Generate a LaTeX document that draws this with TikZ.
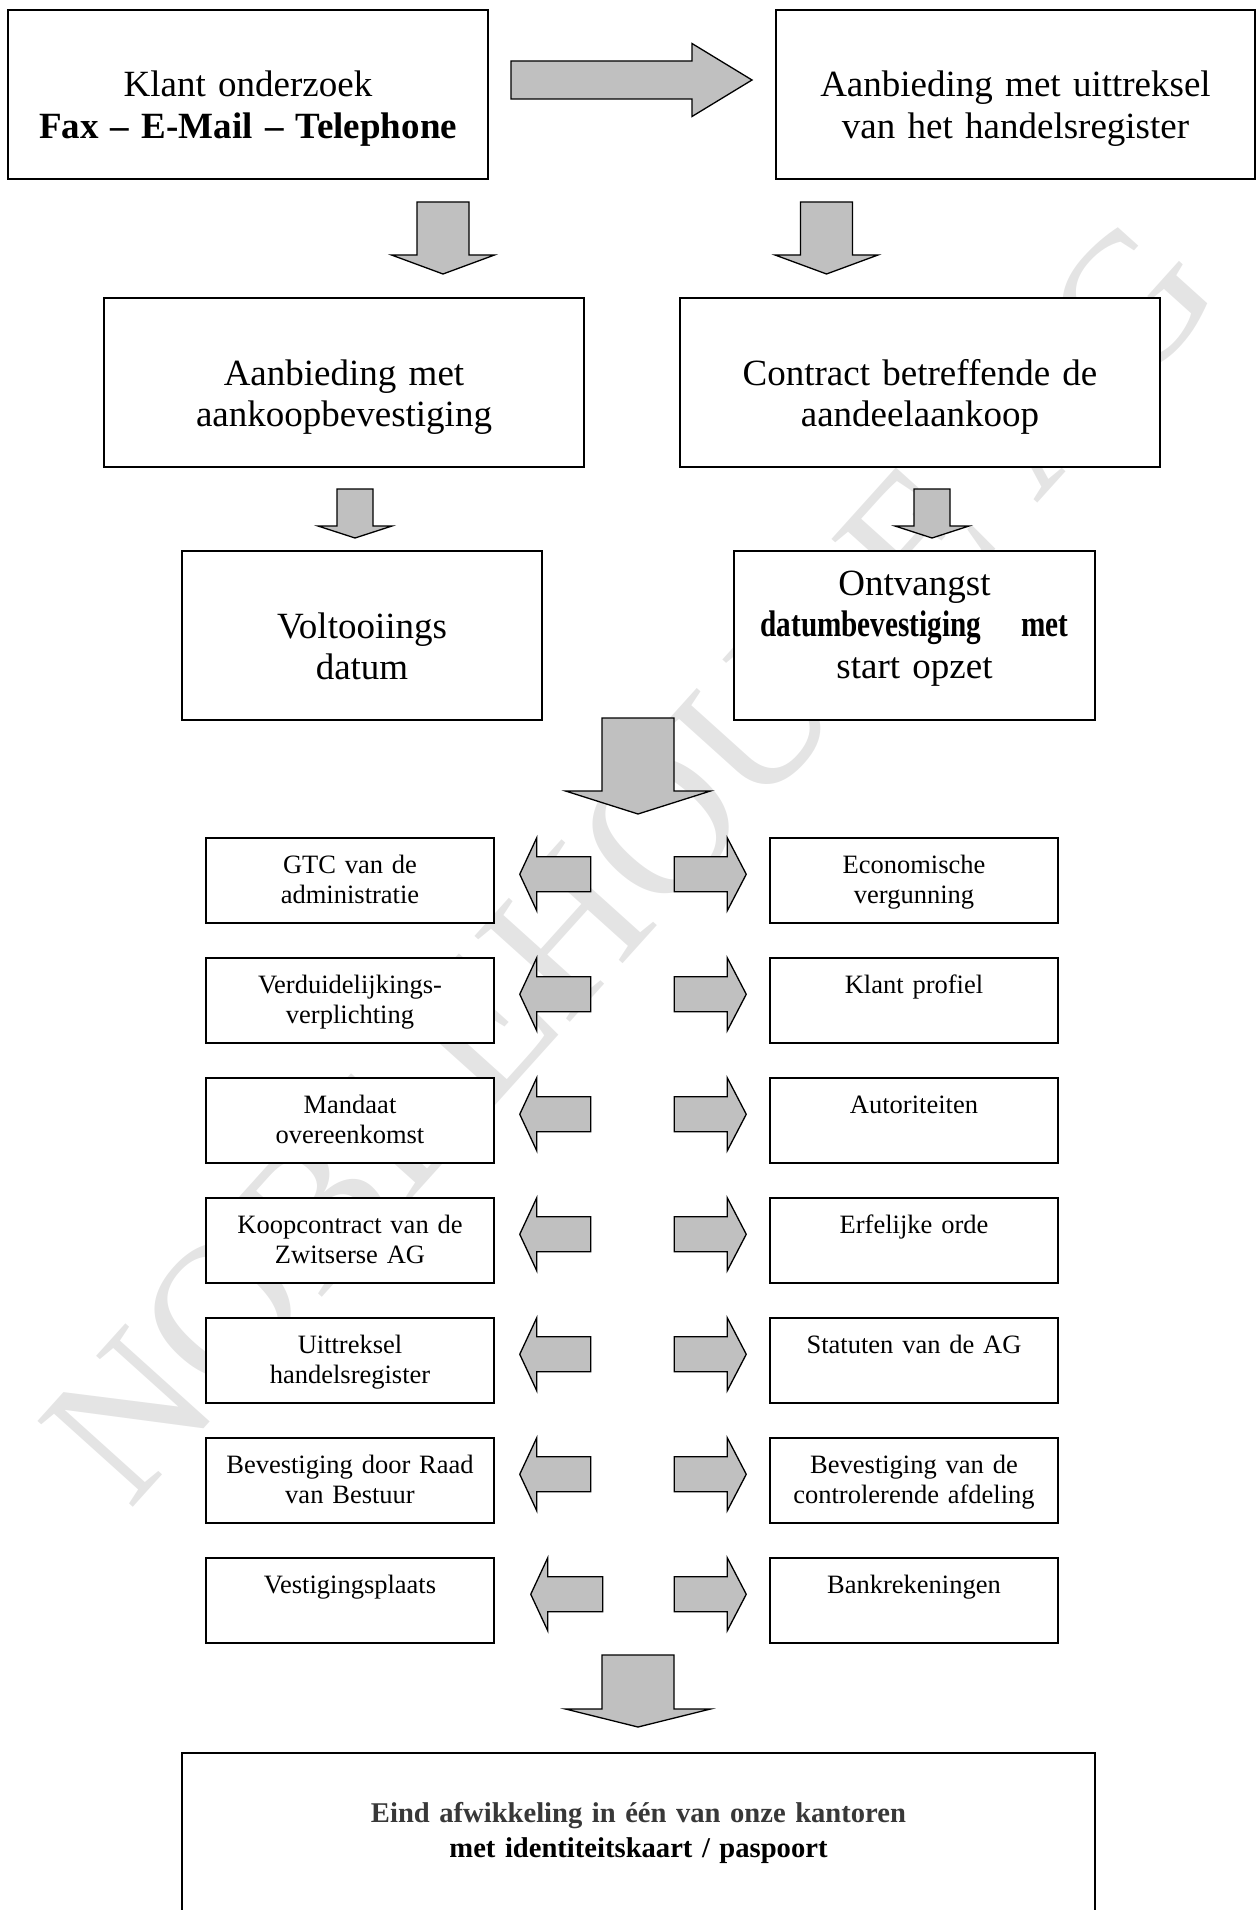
\documentclass[tikz,border=0pt]{standalone}
\usepackage{fontspec}
\setmainfont{Liberation Serif}
\usepackage{graphicx}
\usetikzlibrary{positioning,calc}

\definecolor{arrowgrey}{RGB}{192,192,192}
\definecolor{markgrey}{RGB}{228,228,228}

% fat grey arrow: start, tip, half shaft, half head, head length
\newcommand{\blockarrow}[5]{%
  \coordinate (hb) at ($(#2)!#5!(#1)$);
  \draw[blockarr] ($(#1)!#3!90:(#2)$) -- ($(hb)!#3!90:(#2)$) -- ($(hb)!#4!90:(#2)$) -- (#2)
    -- ($(hb)!#4!-90:(#2)$) -- ($(hb)!#3!-90:(#2)$) -- ($(#1)!#3!-90:(#2)$) -- cycle;}

\begin{document}
\begin{tikzpicture}[x=1pt,y=-1pt]
\tikzstyle{bigbox} = [rectangle, draw=black, line width=1.7pt, fill=white, inner sep=0pt, align=center, text height=87pt, text depth=82pt, font=\fontsize{37}{41.5}\selectfont]
\tikzstyle{smallbox} = [rectangle, draw=black, line width=1.5pt, fill=white, inner sep=0pt, text width=288pt, align=center, text height=35pt, text depth=50pt, font=\fontsize{26.5}{30}\selectfont]
\tikzstyle{blockarr} = [draw=black, line width=1.3pt, fill=arrowgrey, line join=miter]
\useasboundingbox (0,0) rectangle (1256,1910);

% watermark
\node (Mark) [rotate=48, text=markgrey, font=\fontsize{196}{196}\selectfont] at (630,860) {NOBLEHOUSE AG};

\node (Klant) [bigbox, text width=480pt] at (248,94.5) {Klant onderzoek\\ \textbf{Fax – E-Mail – Telephone}};
\node (Aanbod) [bigbox, text width=479pt] at (1015.5,94.5) {Aanbieding met uittreksel\\ van het handelsregister};
\node (Aankoop) [bigbox, text width=480pt] at (344,382.5) {Aanbieding met\\ aankoopbevestiging};
\node (Contract) [bigbox, text width=480pt] at (920,382.5) {Contract betreffende de\\ aandeelaankoop};
\node (Datum) [bigbox, text width=360pt] at (362,635.5) {Voltooiings\\ datum};
\node (Ontvangst) [bigbox, text width=361pt, text height=44pt, text depth=125pt] at (914.5,635.5) {Ontvangst\\ \makebox[308pt]{\bfseries\scalebox{0.79}[1]{datumbevestiging}\hfill\scalebox{0.79}[1]{met}}\\ start opzet};

\blockarrow{511,80}{752,80}{19pt}{36.5pt}{60pt}
\blockarrow{443,202}{443,274}{26pt}{51.5pt}{19pt}
\blockarrow{826.5,202}{826.5,274}{26pt}{51.5pt}{19pt}
\blockarrow{355,489}{355,538}{18pt}{37pt}{12pt}
\blockarrow{932,489}{932,538}{18pt}{37pt}{12pt}
\blockarrow{638,718}{638,814}{36pt}{72.5pt}{23pt}

\node (L1) [smallbox] at (350,880.5) {GTC van de\\ administratie};
\node (L2) [smallbox, below=33.5pt of L1] {Verduidelijkings-\\ verplichting};
\node (L3) [smallbox, below=33.5pt of L2] {Mandaat\\ overeenkomst};
\node (L4) [smallbox, below=33.5pt of L3] {Koopcontract van de\\ Zwitserse AG};
\node (L5) [smallbox, below=33.5pt of L4] {Uittreksel\\ handelsregister};
\node (L6) [smallbox, below=33.5pt of L5] {Bevestiging door Raad\\ van Bestuur};
\node (L7) [smallbox, below=33.5pt of L6] {Vestigingsplaats};
\node (R1) [smallbox, right=274.5pt of L1] {Economische\\ vergunning};
\node (R2) [smallbox, right=274.5pt of L2] {Klant profiel};
\node (R3) [smallbox, right=274.5pt of L3] {Autoriteiten};
\node (R4) [smallbox, right=274.5pt of L4] {Erfelijke orde};
\node (R5) [smallbox, right=274.5pt of L5] {Statuten van de AG};
\node (R6) [smallbox, right=274.5pt of L6] {Bevestiging van de\\ controlerende afdeling};
\node (R7) [smallbox, right=274.5pt of L7] {Bankrekeningen};

\foreach \i/\e/\t in {1/96/25,2/96/25,3/96/25,4/96/25,5/96/25,6/96/25,7/108/36} {
  \coordinate (ls) at ($(L\i.north east)+(\e,37)$);
  \coordinate (lt) at ($(L\i.north east)+(\t,37)$);
  \blockarrow{ls}{lt}{17.5pt}{36.5pt}{17pt}
  \coordinate (rs) at ($(R\i.north west)+(-95,37)$);
  \coordinate (rt) at ($(R\i.north west)+(-23,37)$);
  \blockarrow{rs}{rt}{17.5pt}{36.5pt}{19pt}
}

\blockarrow{638,1655}{638,1727}{36pt}{72.5pt}{18pt}

\node (Eind) [bigbox, anchor=north, text width=913pt, text height=70pt, text depth=200pt, font=\bfseries\fontsize{28.6}{35}\selectfont] at (638.5,1752) {{\color{black!78}Eind afwikkeling in één van onze kantoren}\\ met identiteitskaart / paspoort};
\end{tikzpicture}
\end{document}
